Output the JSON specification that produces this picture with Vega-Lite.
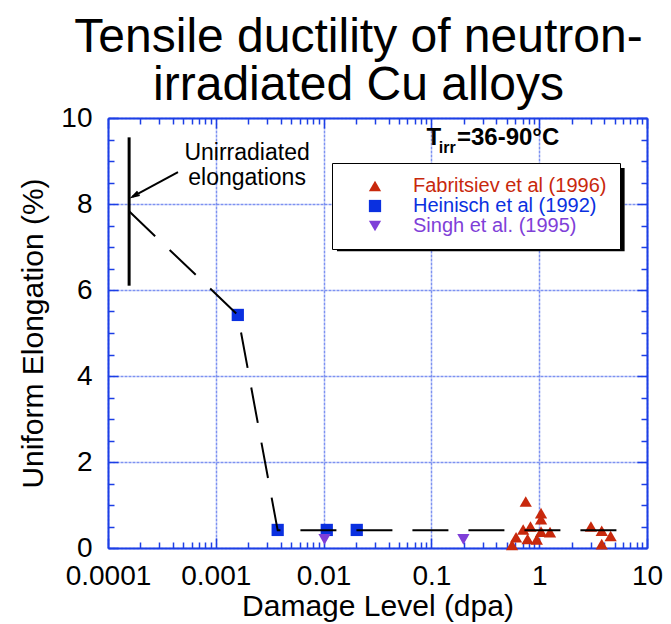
{
  "$schema": "https://vega.github.io/schema/vega-lite/v6.json",
  "width": 539,
  "height": 430,
  "autosize": "none",
  "padding": {"left": 108, "top": 118, "right": 24, "bottom": 76},
  "background": "white",
  "title": {
    "text": ["Tensile ductility of neutron-", "irradiated Cu alloys"],
    "fontSize": 48,
    "font": "Liberation Sans",
    "fontWeight": "normal",
    "anchor": "middle",
    "dx": -19,
    "offset": -6,
    "lineHeight": 48,
    "color": "black"
  },
  "config": {
    "view": {"stroke": null},
    "axis": {
      "domainColor": "#1c3fe6",
      "domainWidth": 2,
      "tickColor": "#1c3fe6",
      "tickWidth": 1.5,
      "gridColor": "#6f86f0",
      "gridDash": [3, 1],
      "gridWidth": 1.5,
      "gridOpacity": 0.9,
      "labelFont": "Liberation Sans",
      "labelFontSize": 28,
      "labelColor": "black",
      "labelFlush": false,
      "labelOverlap": false,
      "titleFont": "Liberation Sans",
      "titleFontSize": 30,
      "titleFontWeight": "normal",
      "titleColor": "black"
    }
  },
  "datasets": {
    "pts": [
      {"series": "Fabritsiev et al (1996)", "dpa": 0.75, "elong": 1.08},
      {"series": "Fabritsiev et al (1996)", "dpa": 1.04, "elong": 0.81},
      {"series": "Fabritsiev et al (1996)", "dpa": 1.04, "elong": 0.67},
      {"series": "Fabritsiev et al (1996)", "dpa": 0.71, "elong": 0.43},
      {"series": "Fabritsiev et al (1996)", "dpa": 0.83, "elong": 0.5},
      {"series": "Fabritsiev et al (1996)", "dpa": 1.04, "elong": 0.38},
      {"series": "Fabritsiev et al (1996)", "dpa": 1.26, "elong": 0.37},
      {"series": "Fabritsiev et al (1996)", "dpa": 0.61, "elong": 0.25},
      {"series": "Fabritsiev et al (1996)", "dpa": 0.78, "elong": 0.21},
      {"series": "Fabritsiev et al (1996)", "dpa": 0.95, "elong": 0.2},
      {"series": "Fabritsiev et al (1996)", "dpa": 0.56, "elong": 0.07},
      {"series": "Fabritsiev et al (1996)", "dpa": 3.02, "elong": 0.5},
      {"series": "Fabritsiev et al (1996)", "dpa": 3.8, "elong": 0.4},
      {"series": "Fabritsiev et al (1996)", "dpa": 4.6, "elong": 0.28},
      {"series": "Fabritsiev et al (1996)", "dpa": 3.8, "elong": 0.09},
      {"series": "Heinisch et al (1992)", "dpa": 0.0016, "elong": 5.42},
      {"series": "Heinisch et al (1992)", "dpa": 0.00375, "elong": 0.42},
      {"series": "Heinisch et al (1992)", "dpa": 0.0107, "elong": 0.42},
      {"series": "Heinisch et al (1992)", "dpa": 0.0203, "elong": 0.42},
      {"series": "Singh et al. (1995)", "dpa": 0.0102, "elong": 0.2},
      {"series": "Singh et al. (1995)", "dpa": 0.198, "elong": 0.2}
    ],
    "trend": [
      {"dpa": 0.000157, "elong": 7.83},
      {"dpa": 0.0016, "elong": 5.42},
      {"dpa": 0.00375, "elong": 0.41},
      {"dpa": 6.1, "elong": 0.41}
    ],
    "unirr": [{"dpa": 0.000157, "lo": 6.1, "hi": 9.55}],
    "arrow": [{"xa": 0.000446, "ya": 8.74, "xb": 0.000169, "yb": 8.17}],
    "shadow": [{"xa": 0.0133, "xb": 6.2, "ya": 8.84, "yb": 6.9}],
    "note": [
      {"t": "Unirradiated", "dpa": 0.00195, "elong": 9.02},
      {"t": "elongations", "dpa": 0.00195, "elong": 8.44}
    ],
    "temp": [
      {"t": "T", "dpa": 0.0903, "elong": 9.37},
      {"t": "=36-90°C", "dpa": 0.1726, "elong": 9.37}
    ],
    "tsub": [{"t": "irr", "dpa": 0.117, "elong": 9.19}]
  },
  "resolve": {"axis": {"x": "independent", "y": "independent"}},
  "layer": [
    {
      "data": {"name": "shadow"},
      "mark": {"type": "rect", "color": "black"},
      "encoding": {
        "x": {"field": "xa", "type": "quantitative", "scale": {"type": "log", "domain": [0.0001, 10]},
          "axis": {"orient": "bottom", "values": [0.0001, 0.001, 0.01, 0.1, 1, 10], "format": "~g", "grid": true, "ticks": true, "tickSize": -10, "labelPadding": 24, "title": "Damage Level (dpa)", "titlePadding": 1}},
        "x2": {"field": "xb"},
        "y": {"field": "ya", "type": "quantitative", "scale": {"domain": [0, 10]},
          "axis": {"orient": "left", "values": [0, 2, 4, 6, 8, 10], "format": "d", "grid": true, "ticks": true, "tickSize": -10, "labelPadding": 26, "title": "Uniform Elongation (%)", "titlePadding": 12}},
        "y2": {"field": "yb"}
      }
    },
    {
      "data": {"name": "unirr"},
      "mark": {"type": "rule", "color": "black", "strokeWidth": 3},
      "encoding": {
        "x": {"field": "dpa", "type": "quantitative", "scale": {"type": "log", "domain": [0.0001, 10]},
          "axis": {"orient": "bottom", "values": [0.0002,0.0003,0.0004,0.0005,0.0006,0.0007,0.0008,0.0009,0.002,0.003,0.004,0.005,0.006,0.007,0.008,0.009,0.02,0.03,0.04,0.05,0.06,0.07,0.08,0.09,0.2,0.3,0.4,0.5,0.6,0.7,0.8,0.9,2,3,4,5,6,7,8,9], "labels": false, "grid": false, "domain": false, "tickSize": -6, "title": null}},
        "y": {"field": "lo", "type": "quantitative", "scale": {"domain": [0, 10]},
          "axis": {"orient": "left", "values": [0.5,1,1.5,2.5,3,3.5,4.5,5,5.5,6.5,7,7.5,8.5,9,9.5], "labels": false, "grid": false, "domain": false, "tickSize": -6, "title": null}},
        "y2": {"field": "hi"}
      }
    },
    {
      "data": {"name": "arrow"},
      "mark": {"type": "rule", "color": "black", "strokeWidth": 2},
      "encoding": {
        "x": {"field": "xa", "type": "quantitative", "scale": {"type": "log", "domain": [0.0001, 10]},
          "axis": {"orient": "top", "values": [0.0001, 0.001, 0.01, 0.1, 1, 10], "labels": false, "grid": false, "domain": true, "tickSize": -10, "title": null}},
        "x2": {"field": "xb"},
        "y": {"field": "ya", "type": "quantitative", "scale": {"domain": [0, 10]},
          "axis": {"orient": "right", "values": [0, 2, 4, 6, 8, 10], "labels": false, "grid": false, "domain": true, "tickSize": -10, "title": null}},
        "y2": {"field": "yb"}
      }
    },
    {
      "data": {"name": "arrow"},
      "mark": {"type": "point", "shape": "M-0.6,2L0,0L0.6,2", "filled": false, "stroke": "black", "strokeWidth": 2, "size": 49, "angle": 241, "opacity": 1},
      "encoding": {
        "x": {"field": "xb", "type": "quantitative", "scale": {"type": "log", "domain": [0.0001, 10]},
          "axis": {"orient": "top", "values": [0.0002,0.0003,0.0004,0.0005,0.0006,0.0007,0.0008,0.0009,0.002,0.003,0.004,0.005,0.006,0.007,0.008,0.009,0.02,0.03,0.04,0.05,0.06,0.07,0.08,0.09,0.2,0.3,0.4,0.5,0.6,0.7,0.8,0.9,2,3,4,5,6,7,8,9], "labels": false, "grid": false, "domain": false, "tickSize": -6, "title": null}},
        "y": {"field": "yb", "type": "quantitative", "scale": {"domain": [0, 10]},
          "axis": {"orient": "right", "values": [0.5,1,1.5,2.5,3,3.5,4.5,5,5.5,6.5,7,7.5,8.5,9,9.5], "labels": false, "grid": false, "domain": false, "tickSize": -6, "title": null}}
      }
    },
    {
      "data": {"name": "pts"},
      "mark": {"type": "point", "filled": true, "opacity": 1, "size": 150},
      "encoding": {
        "x": {"field": "dpa", "type": "quantitative", "scale": {"type": "log", "domain": [0.0001, 10]}, "axis": null},
        "y": {"field": "elong", "type": "quantitative", "scale": {"domain": [0, 10]}, "axis": null},
        "color": {"field": "series", "type": "nominal",
          "scale": {"domain": ["Fabritsiev et al (1996)", "Heinisch et al (1992)", "Singh et al. (1995)"], "range": ["#c8280c", "#0a30e0", "#7f3fd8"]},
          "legend": {"orient": "none", "legendX": 224, "legendY": 45, "title": null, "fillColor": "white", "strokeColor": "black", "padding": 13, "rowPadding": 0, "symbolSize": 150, "symbolOffset": 20, "labelOffset": 28, "labelLimit": 400, "labelFont": "Liberation Sans", "labelFontSize": 20,
            "labelColor": {"expr": "scale('color', datum.value)"},
            "encode": {"legend": {"update": {"strokeWidth": {"value": 2}}}}}},
        "shape": {"field": "series", "type": "nominal",
          "scale": {"domain": ["Fabritsiev et al (1996)", "Heinisch et al (1992)", "Singh et al. (1995)"], "range": ["triangle-up", "square", "triangle-down"]},
          "legend": {"orient": "none", "legendX": 224, "legendY": 45, "title": null, "fillColor": "white", "strokeColor": "black", "padding": 13, "rowPadding": 0, "symbolSize": 150, "symbolOffset": 20, "labelOffset": 28, "labelLimit": 400, "labelFont": "Liberation Sans", "labelFontSize": 20,
            "labelColor": {"expr": "scale('color', datum.value)"},
            "encode": {"legend": {"update": {"strokeWidth": {"value": 2}}}}}}
      }
    },
    {
      "data": {"name": "trend"},
      "mark": {"type": "line", "color": "black", "strokeWidth": 2, "strokeDash": [36, 20]},
      "encoding": {
        "x": {"field": "dpa", "type": "quantitative", "scale": {"type": "log", "domain": [0.0001, 10]}, "axis": null},
        "y": {"field": "elong", "type": "quantitative", "scale": {"domain": [0, 10]}, "axis": null}
      }
    },
    {
      "data": {"name": "note"},
      "mark": {"type": "text", "font": "Liberation Sans", "fontSize": 23, "align": "center", "baseline": "alphabetic", "color": "black"},
      "encoding": {
        "x": {"field": "dpa", "type": "quantitative", "scale": {"type": "log", "domain": [0.0001, 10]}, "axis": null},
        "y": {"field": "elong", "type": "quantitative", "scale": {"domain": [0, 10]}, "axis": null},
        "text": {"field": "t"}
      }
    },
    {
      "data": {"name": "temp"},
      "mark": {"type": "text", "font": "Liberation Sans", "fontSize": 24, "fontWeight": "bold", "align": "left", "baseline": "alphabetic", "color": "black"},
      "encoding": {
        "x": {"field": "dpa", "type": "quantitative", "scale": {"type": "log", "domain": [0.0001, 10]}, "axis": null},
        "y": {"field": "elong", "type": "quantitative", "scale": {"domain": [0, 10]}, "axis": null},
        "text": {"field": "t"}
      }
    },
    {
      "data": {"name": "tsub"},
      "mark": {"type": "text", "font": "Liberation Sans", "fontSize": 16, "fontWeight": "bold", "align": "left", "baseline": "alphabetic", "color": "black"},
      "encoding": {
        "x": {"field": "dpa", "type": "quantitative", "scale": {"type": "log", "domain": [0.0001, 10]}, "axis": null},
        "y": {"field": "elong", "type": "quantitative", "scale": {"domain": [0, 10]}, "axis": null},
        "text": {"field": "t"}
      }
    }
  ]
}
